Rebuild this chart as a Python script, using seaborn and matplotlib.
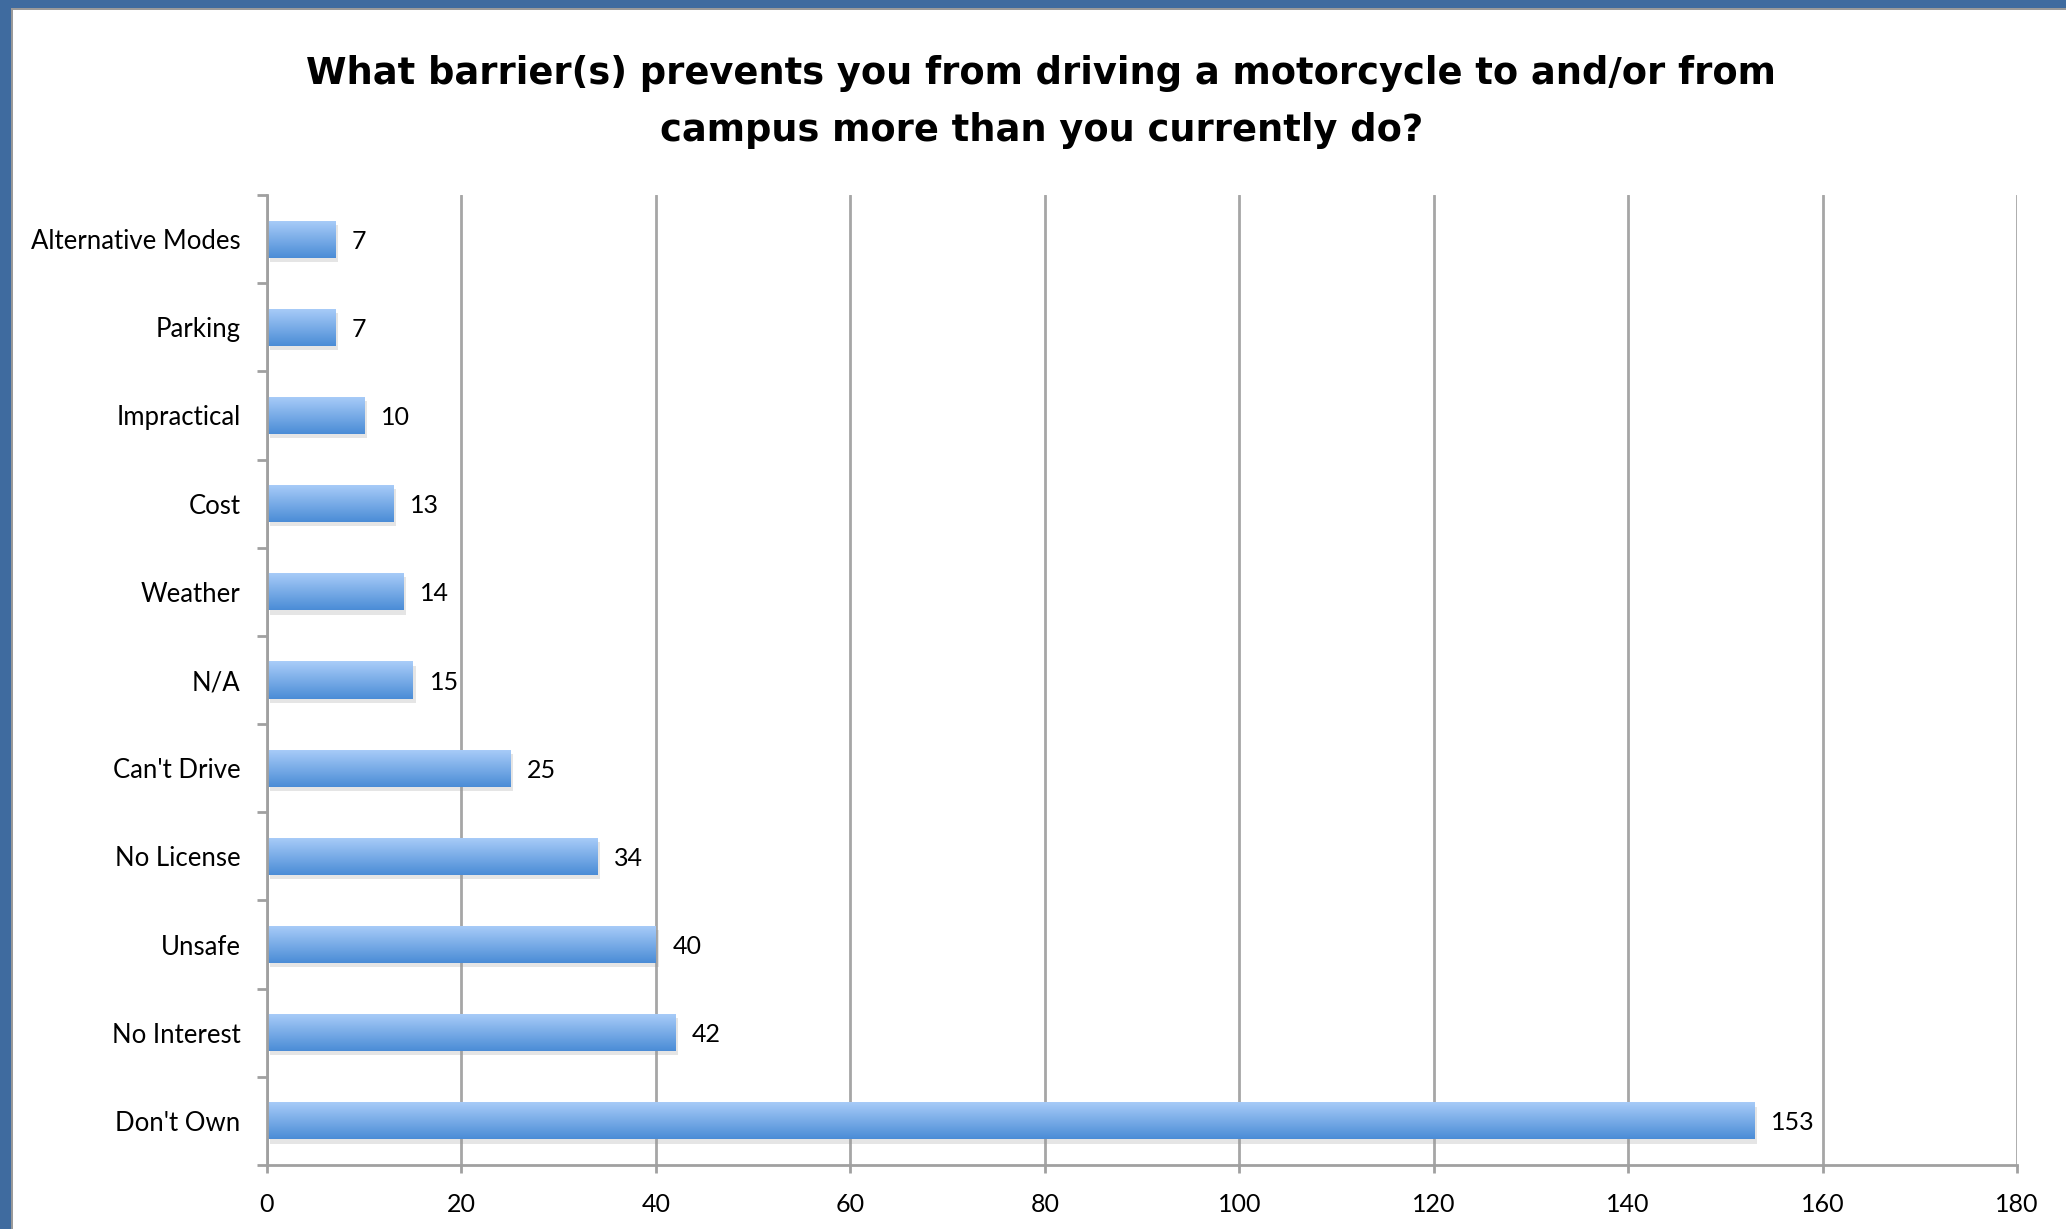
import matplotlib
matplotlib.use("Agg")
import matplotlib.pyplot as plt
import matplotlib.patheffects as pe
from matplotlib.colors import LinearSegmentedColormap
from matplotlib.patches import Rectangle
import numpy as np
import pandas as pd
import seaborn as sns

categories = ["Alternative Modes", "Parking", "Impractical", "Cost", "Weather", "N/A",
              "Can't Drive", "No License", "Unsafe", "No Interest", "Don't Own"]
counts = [7, 7, 10, 13, 14, 15, 25, 34, 40, 42, 153]
x_ticks = [0, 20, 40, 60, 80, 100, 120, 140, 160, 180]
title = "What barrier(s) prevents you from driving a motorcycle to and/or from\ncampus more than you currently do?"

df = pd.DataFrame({"Barrier": categories, "Count": counts})

sns.set_theme(style="white")
plt.rcParams["font.family"] = ["Lato", "DejaVu Sans"]
plt.rcParams["text.color"] = "black"
plt.rcParams["xtick.color"] = "black"
plt.rcParams["ytick.color"] = "black"

fig = plt.figure(figsize=(20.66, 12.29), dpi=100)
fig.patch.set_facecolor("white")
ax = fig.add_axes([267 / 2066, 1 - 1165 / 1229, 1750 / 2066, 970 / 1229])

sns.barplot(data=df, y="Barrier", x="Count", order=categories, color="#5b98dd",
            width=0.42, ax=ax, saturation=1)

# gradient fill inside each bar, plus a soft shadow
grad_cmap = LinearSegmentedColormap.from_list("bar", ["#aacdf9", "#4a8cd6"])
grad = np.linspace(0, 1, 256).reshape(-1, 1)
for p in ax.patches:
    x0, y0 = p.get_x(), p.get_y()
    w, h = p.get_width(), p.get_height()
    p.set_edgecolor("none")
    p.set_path_effects([pe.SimplePatchShadow(offset=(2, -3), shadow_rgbFace="#999999", alpha=0.25),
                        pe.Normal()])
    im = ax.imshow(grad, cmap=grad_cmap, extent=(x0, x0 + w, y0 + h, y0),
                   origin="upper", aspect="auto", zorder=p.get_zorder() + 0.1)
    im.set_clip_path(p)

labels = ax.bar_label(ax.containers[0], padding=12, fontsize=18, color="black")
for t in labels:
    t.set_va("center_baseline")

ax.set_xlim(0, 180)
ax.set_ylim(len(categories) - 0.5, -0.5)
ax.set_xticks(x_ticks)
ax.set_xticklabels([str(t) for t in x_ticks], fontsize=18)
ax.set_yticks(range(len(categories)))
ax.set_yticklabels(categories, fontsize=18.5, va="center_baseline")
ax.set_xlabel("")
ax.set_ylabel("")

# vertical gridlines behind bars
ax.set_axisbelow(True)
ax.xaxis.grid(True, color="#a6a6a6", linewidth=2)
ax.yaxis.grid(False)

for side in ["top", "right"]:
    ax.spines[side].set_visible(False)
for side in ["left", "bottom"]:
    ax.spines[side].set_color("#a0a0a0")
    ax.spines[side].set_linewidth(2)

# Excel-style ticks: y ticks at category boundaries, x ticks pointing down
ax.tick_params(axis="y", length=0, pad=19)
ax.set_yticks(np.arange(-0.5, len(categories), 1), minor=True)
ax.tick_params(axis="y", which="minor", left=True, length=7, width=2, color="#a0a0a0")
ax.tick_params(axis="x", bottom=True, length=6, width=2, color="#a0a0a0", pad=14)

fig.text(0.504, 0.9555, title, ha="center", va="top", fontsize=26.5, fontweight="bold",
         family=["DejaVu Sans"], linespacing=1.7, color="black")

# blue slide frame on top and left edges
fig.patches.append(Rectangle((0, 1 - 8 / 1229), 1, 8 / 1229, transform=fig.transFigure,
                             facecolor="#3f6b9f", edgecolor="none", zorder=10))
fig.patches.append(Rectangle((0, 0), 11 / 2066, 1, transform=fig.transFigure,
                             facecolor="#3f6b9f", edgecolor="none", zorder=10))
fig.patches.append(Rectangle((11 / 2066, 1 - 10 / 1229), 1, 2 / 1229, transform=fig.transFigure,
                             facecolor="#9a9a9a", edgecolor="none", zorder=10))
fig.patches.append(Rectangle((11 / 2066, 0), 2 / 2066, 1 - 8 / 1229, transform=fig.transFigure,
                             facecolor="#9a9a9a", edgecolor="none", zorder=10))

fig.savefig("out.png", dpi=100)
